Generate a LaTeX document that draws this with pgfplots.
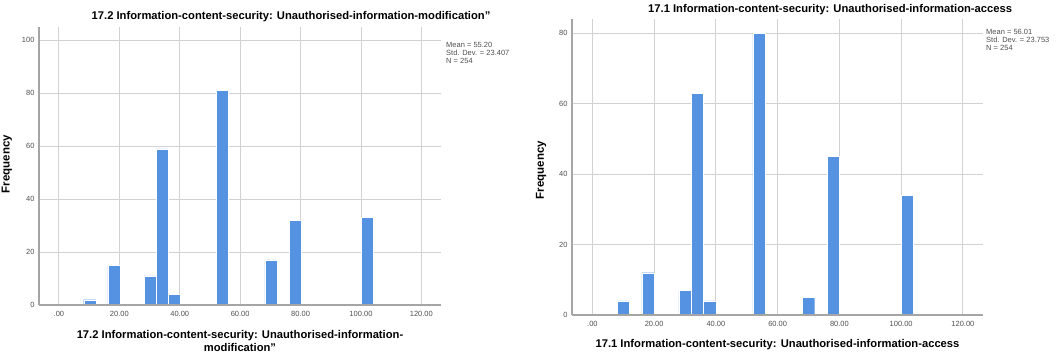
\documentclass[border=0pt]{standalone}
\usepackage{pgfplots}
\pgfplotsset{compat=1.18}
\usepackage{fontspec}
\setmainfont{Liberation Sans}
\definecolor{barblue}{RGB}{85,146,226}
\definecolor{gridgray}{RGB}{210,210,210}
\definecolor{axgray}{RGB}{165,165,165}
\definecolor{ticktext}{RGB}{80,80,80}
\pgfplotsset{spss/.style={
  scale only axis,
  axis lines=left,
  axis line style={-, axgray, line width=1.2pt},
  major tick length=0pt,
  grid=major,
  major grid style={gridgray, line width=0.9pt},
  xmin=-6.6, xmax=126.5, ymin=0,
  xtick={0,20,40,60,80,100,120},
  xticklabels={.00,20.00,40.00,60.00,80.00,100.00,120.00},
  tick label style={font=\fontsize{7.5}{8}\selectfont, text=ticktext},
  xticklabel style={yshift=-3pt},
  yticklabel style={xshift=-1pt},
  ylabel={Frequency},
  ylabel style={font=\bfseries\fontsize{11.5}{12}\selectfont, anchor=center},
  xlabel style={font=\bfseries\fontsize{11.2}{12.5}\selectfont, anchor=center, align=center},
  title style={font=\bfseries\fontsize{11.2}{12}\selectfont, anchor=center},
  clip=false,
  ybar, bar width=4,
}}
\begin{document}
\begin{tikzpicture}
\path[use as bounding box] (0pt,-356pt) rectangle (1064pt,0pt);
\begin{axis}[spss,
  at={(39pt,-305pt)}, anchor=south west,
  width=402pt, height=278pt,
  ymax=105,
  ytick={0,20,40,60,80,100}, yticklabels={0,20,40,60,80,100},
  title={17.2 Information-content-security: Unauthorised-information-modification''},
  title style={at={(axis description cs:0.627,1)}, yshift=4pt},
  xlabel={17.2 Information-content-security: Unauthorised-information-\\modification''},
  xlabel style={at={(axis description cs:0.5,0)}, yshift=-36pt},
  ylabel style={at={(axis description cs:-0.08,0.507)}},
]
\addplot[fill=barblue, draw=white, line width=0.4pt] coordinates {
 (10.2,2) (18.2,15) (30.2,11) (34.2,59) (38.2,4) (54.2,81) (70.2,17) (78.2,32) (102.2,33)};
\draw[axgray, line width=1.2pt] (rel axis cs:0,0) -- (rel axis cs:1,0);
\node[anchor=north west, align=left, font=\fontsize{7.5}{8}\selectfont, text=ticktext, inner sep=0pt, xshift=5pt]
  at (rel axis cs:1,0.945) {Mean = 55.20\\Std. Dev. = 23.407\\N = 254};
\end{axis}
\begin{axis}[spss,
  at={(572pt,-315pt)}, anchor=south west,
  width=411pt, height=296pt,
  ymax=84,
  ytick={0,20,40,60,80}, yticklabels={0,20,40,60,80},
  title={17.1 Information-content-security: Unauthorised-information-access},
  title style={at={(axis description cs:0.628,1)}, yshift=3pt},
  xlabel={17.1 Information-content-security: Unauthorised-information-access},
  xlabel style={at={(axis description cs:0.5,0)}, yshift=-30pt},
  ylabel style={at={(axis description cs:-0.075,0.49)}},
]
\addplot[fill=barblue, draw=white, line width=0.4pt] coordinates {
 (10,4) (18,12) (30,7) (34,63) (38,4) (54,80) (70,5) (78,45) (102,34)};
\draw[axgray, line width=1.2pt] (rel axis cs:0,0) -- (rel axis cs:1,0);
\node[anchor=north west, align=left, font=\fontsize{7.5}{8}\selectfont, text=ticktext, inner sep=0pt, xshift=3pt]
  at (rel axis cs:1,0.965) {Mean = 56.01\\Std. Dev. = 23.753\\N = 254};
\end{axis}
\end{tikzpicture}
\end{document}
